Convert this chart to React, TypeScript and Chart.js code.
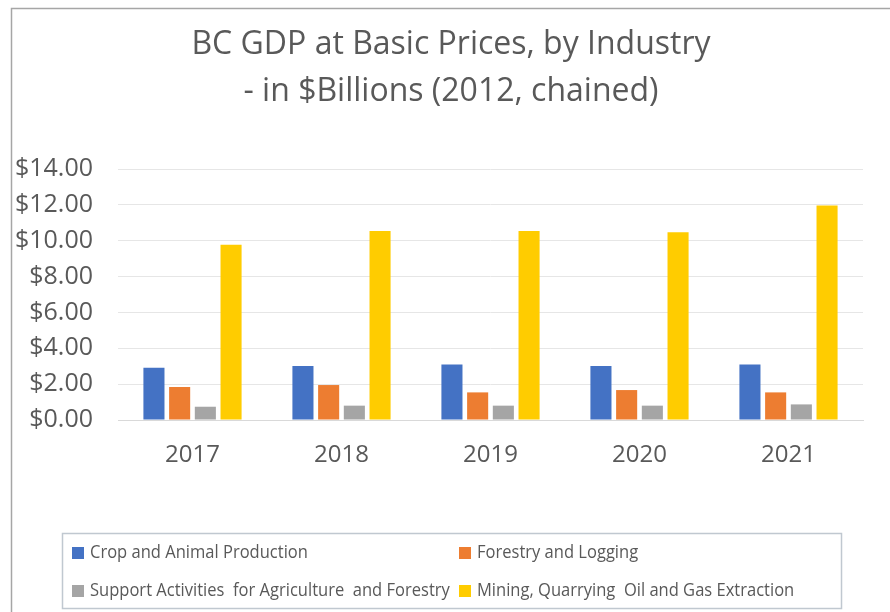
import React, { useEffect, useRef } from "react";
import { Chart, registerables } from "chart.js";

Chart.register(...registerables);

const years = ["2017", "2018", "2019", "2020", "2021"];
const cropAnimal = [2.92, 3.01, 3.09, 3.01, 3.09];
const forestryLogging = [1.84, 1.95, 1.54, 1.67, 1.54];
const supportActivities = [0.74, 0.8, 0.8, 0.8, 0.87];
const miningOilGas = [9.78, 10.54, 10.54, 10.47, 11.97];
const seriesNames = [
  "Crop and Animal Production",
  "Forestry and Logging",
  "Support Activities  for Agriculture  and Forestry",
  "Mining, Quarrying  Oil and Gas Extraction",
];
const titleLines = ["BC GDP at Basic Prices, by Industry", "- in $Billions (2012, chained)"];

const FONT = "Open Sans";
const TEXT = "#595959";

const framePlugin = {
  id: "frame",
  beforeDraw(chart: any) {
    const ctx = chart.ctx;
    ctx.save();
    ctx.fillStyle = "#ffffff";
    ctx.fillRect(0, 0, chart.width, chart.height);
    ctx.strokeStyle = "#a6a6a6";
    ctx.lineWidth = 1.5;
    ctx.beginPath();
    ctx.moveTo(chart.width, 8.5);
    ctx.lineTo(11.5, 8.5);
    ctx.lineTo(11.5, chart.height);
    ctx.stroke();
    ctx.restore();
  },
};

const titlePlugin = {
  id: "centeredTitle",
  afterDraw(chart: any) {
    const ctx = chart.ctx;
    ctx.save();
    ctx.font = `32px "${FONT}"`;
    ctx.fillStyle = TEXT;
    ctx.textAlign = "center";
    ctx.textBaseline = "middle";
    const cx = 451;
    titleLines.forEach((line, i) => {
      ctx.fillText(line, cx, 45 + i * 47);
    });
    ctx.restore();
  },
};

const boxLegendPlugin = {
  id: "boxLegend",
  afterDraw(chart: any) {
    const ctx = chart.ctx;
    const left = 62.5;
    const top = 533.5;
    const right = chart.width - 48.5;
    const bottom = 608.5;
    ctx.save();
    ctx.strokeStyle = "#c0c8d0";
    ctx.lineWidth = 1.5;
    ctx.strokeRect(left, top, right - left, bottom - top);
    const colX = [72, 459];
    const rowY = [553, 591];
    ctx.font = `19px "${FONT}"`;
    ctx.textBaseline = "middle";
    chart.data.datasets.forEach((ds: any, i: number) => {
      const x = colX[i % 2];
      const y = rowY[Math.floor(i / 2)];
      ctx.fillStyle = ds.backgroundColor;
      ctx.fillRect(x, y - 6, 12, 12);
      ctx.fillStyle = TEXT;
      ctx.save();
      ctx.translate(x + 18, y);
      ctx.scale(0.87, 1);
      ctx.fillText(ds.label, 0, 0);
      ctx.restore();
    });
    ctx.restore();
  },
};

export default function App() {
  const canvasRef = useRef<HTMLCanvasElement | null>(null);

  useEffect(() => {
    if (!canvasRef.current) return;
    const chart = new Chart(canvasRef.current, {
      type: "bar",
      data: {
        labels: years,
        datasets: [
          { label: seriesNames[0], data: cropAnimal, backgroundColor: "#4472C4" },
          { label: seriesNames[1], data: forestryLogging, backgroundColor: "#ED7D31" },
          { label: seriesNames[2], data: supportActivities, backgroundColor: "#A5A5A5" },
          { label: seriesNames[3], data: miningOilGas, backgroundColor: "#FFCC00" },
        ],
      },
      options: {
        responsive: false,
        animation: false,
        maintainAspectRatio: false,
        datasets: { bar: { categoryPercentage: 0.69, barPercentage: 0.82 } },
        layout: { padding: { left: 12, right: 27, top: 169, bottom: 132 } },
        plugins: {
          legend: { display: false },
          tooltip: { enabled: false },
          title: { display: false },
        },
        scales: {
          x: {
            grid: { display: false, drawTicks: false },
            border: { display: true, color: "#d9d9d9", width: 1 },
            ticks: { color: TEXT, font: { family: FONT, size: 24 }, padding: 21 },
            afterFit: (s: any) => {
              s.height = 60;
            },
          },
          y: {
            min: 0,
            max: 14,
            grid: { color: "#e6e6e6", drawTicks: false, lineWidth: 1 },
            border: { display: false },
            ticks: {
              stepSize: 2,
              color: TEXT,
              padding: 25,
              font: { family: FONT, size: 25 },
              callback: (v: any) => "$" + Number(v).toFixed(2),
            },
            afterFit: (s: any) => {
              s.width = 106;
            },
          },
        },
      },
      plugins: [framePlugin, titlePlugin, boxLegendPlugin],
    });
    return () => chart.destroy();
  }, []);

  return (
    <div style={{ position: "fixed", left: 0, top: 0, width: 890, height: 612, background: "#fff" }}>
      <canvas ref={canvasRef} width={890} height={612} style={{ display: "block" }} />
    </div>
  );
}
